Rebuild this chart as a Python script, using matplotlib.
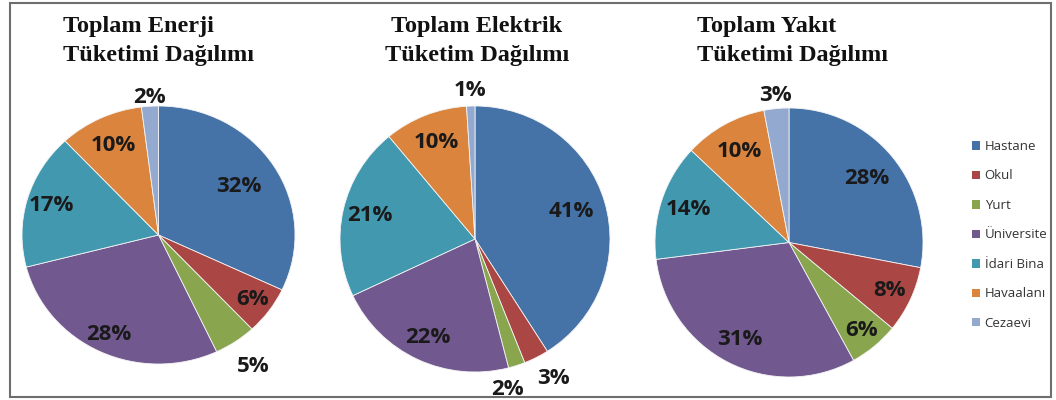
import matplotlib
matplotlib.use('Agg')
import numpy as np
import matplotlib.pyplot as plt
from matplotlib.patches import Patch, Rectangle

# Data
categories = ['Hastane', 'Okul', 'Yurt', 'Üniversite', 'İdari Bina', 'Havaalanı', 'Cezaevi']
enerji = [32, 6, 5, 28, 17, 10, 2]
elektrik = [41, 3, 2, 22, 21, 10, 1]
yakit = [28, 8, 6, 31, 14, 10, 3]
titles = [('Toplam Enerji', 'Tüketimi Dağılımı'),
          ('Toplam Elektrik', 'Tüketim Dağılımı'),
          ('Toplam Yakıt', 'Tüketimi Dağılımı')]

colors = ['#4572A7', '#AA4643', '#89A54E', '#71588F', '#4198AF', '#DB843D', '#93A9CF']

W, H = 1056, 400
fig = plt.figure(figsize=(W / 100, H / 100), dpi=100)


def px_box(cx, cy, rx, ry):
    return [(cx - rx) / W, 1 - (cy + ry) / H, 2 * rx / W, 2 * ry / H]


# pie placement (center x, center y, radius x, radius y) in pixels
boxes = [(158.5, 235, 136.5, 129), (475, 239, 135, 133), (789, 242.5, 134, 134.5)]
# label distance from center, as a fraction of radius
label_dist = [[0.70, 0.85, 1.23, 0.85, 0.82, 0.77, 1.07],
              [0.74, 1.20, 1.16, 0.82, 0.80, 0.78, 1.12],
              [0.75, 0.83, 0.85, 0.81, 0.79, 0.77, 1.10]]
# small angle nudges (degrees) so the tiny outside labels don't collide
label_nudge = [[0, 0, 0, 0, 0, 0, 0],
               [0, 2, -6, 0, 0, 0, 0],
               [0, 0, 0, 0, 0, 0, 0]]
# title placement: x, alignment
title_pos = [(63, 'left'), (477, 'center'), (697, 'left')]

for i, vals in enumerate([enerji, elektrik, yakit]):
    ax = fig.add_axes(px_box(*boxes[i]))
    wedges, _ = ax.pie(vals, colors=colors, startangle=90, counterclock=False,
                       wedgeprops=dict(edgecolor='#f4f4f4', linewidth=0.6))
    ax.set_aspect('auto')
    ax.set_xlim(-1, 1)
    ax.set_ylim(-1, 1)
    for w, v, d, n in zip(wedges, vals, label_dist[i], label_nudge[i]):
        mid = np.deg2rad((w.theta1 + w.theta2) / 2 + n)
        ax.text(d * np.cos(mid), d * np.sin(mid), '%d%%' % v, ha='center', va='center',
                fontsize=16, fontweight='bold', family='Open Sans', color='#1a1a1a')

    tx, ha = title_pos[i]
    fig.text(tx / W, 1 - 32 / H, titles[i][0], ha=ha, va='baseline', fontsize=17.5,
             fontweight='bold', family='Liberation Serif', color='#111111')
    fig.text(tx / W, 1 - 61 / H, titles[i][1], ha=ha, va='baseline', fontsize=17.5,
             fontweight='bold', family='Liberation Serif', color='#111111')

# Legend
handles = [Patch(facecolor=c, edgecolor='none') for c in colors]
leg = fig.legend(handles, categories, loc='upper left', bbox_to_anchor=(972 / W, 1 - 140 / H),
                 frameon=False, handlelength=0.6, handleheight=0.6,
                 handletextpad=0.35, labelspacing=1.25, borderpad=0, borderaxespad=0,
                 prop={'family': 'Open Sans', 'size': 9.5})
for t in leg.get_texts():
    t.set_color('#333333')

# outer frame
fig.patches.append(Rectangle((10 / W, 3 / H), 1041 / W, 394 / H, transform=fig.transFigure,
                             fill=False, edgecolor='#6e6e6e', linewidth=1.5))

fig.savefig('out.png', dpi=100)
